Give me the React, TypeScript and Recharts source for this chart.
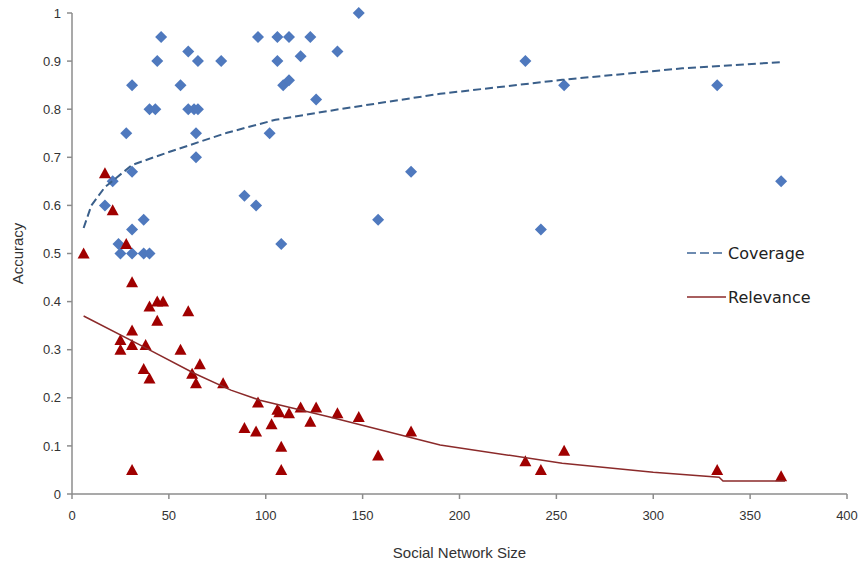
import React from 'react'
import {
  ScatterChart,
  Scatter,
  XAxis,
  YAxis,
} from 'recharts'

// Coverage observations (social network size, accuracy)
const coverageX = [
  31, 46, 60, 44, 65, 77, 56, 60, 63, 65, 40, 43, 28, 64, 64, 31, 21, 17, 37, 31, 24, 25, 31, 37, 40,
  96, 106, 112, 123, 148, 106, 118, 137, 109, 112, 126, 102, 89, 95, 175, 158, 108,
  234, 254, 333, 366, 242,
]
const coverageY = [
  0.85, 0.95, 0.92, 0.9, 0.9, 0.9, 0.85, 0.8, 0.8, 0.8, 0.8, 0.8, 0.75, 0.75, 0.7, 0.67, 0.65, 0.6, 0.57, 0.55, 0.52, 0.5, 0.5, 0.5, 0.5,
  0.95, 0.95, 0.95, 0.95, 1.0, 0.9, 0.91, 0.92, 0.85, 0.86, 0.82, 0.75, 0.62, 0.6, 0.67, 0.57, 0.52,
  0.9, 0.85, 0.85, 0.65, 0.55,
]

// Relevance observations
const relevanceX = [
  6, 17, 21, 28, 31, 40, 44, 47, 44, 60, 25, 25, 31, 31, 38, 56, 37, 40, 62, 66, 64, 78, 31,
  96, 89, 95, 103, 106, 107, 112, 118, 126, 123, 137, 148, 108, 108, 158, 175,
  234, 254, 242, 333, 366,
]
const relevanceY = [
  0.5, 0.667, 0.59, 0.52, 0.44, 0.39, 0.4, 0.4, 0.36, 0.38, 0.32, 0.3, 0.34, 0.31, 0.31, 0.3, 0.26, 0.24, 0.25, 0.27, 0.23, 0.23, 0.05,
  0.19, 0.137, 0.13, 0.145, 0.175, 0.17, 0.168, 0.18, 0.18, 0.15, 0.168, 0.16, 0.098, 0.05, 0.08, 0.13,
  0.068, 0.09, 0.05, 0.05, 0.037,
]

// Trend lines
const coverageTrendX = [6, 10, 17, 31, 50, 80, 105, 138, 190, 253, 315, 366]
const coverageTrendY = [0.553, 0.6, 0.638, 0.684, 0.711, 0.751, 0.778, 0.8, 0.832, 0.861, 0.885, 0.898]
const relevanceTrendX = [6, 37, 63, 82, 97, 133, 190, 253, 300, 334, 336, 368]
const relevanceTrendY = [0.37, 0.306, 0.251, 0.216, 0.195, 0.16, 0.102, 0.064, 0.045, 0.035, 0.027, 0.027]

const xTicks = [0, 50, 100, 150, 200, 250, 300, 350, 400]
const yTicks = [0, 0.1, 0.2, 0.3, 0.4, 0.5, 0.6, 0.7, 0.8, 0.9, 1]

const zip = (xs: number[], ys: number[]) => xs.map((x, i) => ({ x, y: ys[i] }))

const coverage = zip(coverageX, coverageY)
const relevance = zip(relevanceX, relevanceY)
const coverageTrend = zip(coverageTrendX, coverageTrendY)
const relevanceTrend = zip(relevanceTrendX, relevanceTrendY)

const BLUE = '#4f79be'
const RED = '#a00000'
const AXIS = '#8c8c8c'
const SANS = 'Liberation Sans, Arial, sans-serif'

const Diamond = (props: any) => {
  const { cx, cy } = props
  const r = 6
  return <polygon points={`${cx},${cy - r} ${cx + r},${cy} ${cx},${cy + r} ${cx - r},${cy}`} fill={BLUE} />
}

const Triangle = (props: any) => {
  const { cx, cy } = props
  return <polygon points={`${cx},${cy - 6} ${cx + 6},${cy + 5} ${cx - 6},${cy + 5}`} fill={RED} />
}

const NoDot = () => null

function LegendBox() {
  return (
    <div
      style={{
        position: 'absolute',
        left: 686,
        top: 242,
        fontFamily: 'DejaVu Sans, Verdana, sans-serif',
        fontSize: 16,
        color: '#222',
      }}
    >
      <div style={{ display: 'flex', alignItems: 'center', height: 22 }}>
        <svg width={42} height={10}>
          <line x1={1} y1={5} x2={40} y2={5} stroke="#6d8bb0" strokeWidth={2} strokeDasharray="9 4" />
        </svg>
        <span>Coverage</span>
      </div>
      <div style={{ display: 'flex', alignItems: 'center', height: 22, marginTop: 22 }}>
        <svg width={42} height={10}>
          <line x1={1} y1={5} x2={40} y2={5} stroke="#8b2a2a" strokeWidth={1.5} />
        </svg>
        <span>Relevance</span>
      </div>
    </div>
  )
}

export default function App() {
  const tick = { fontSize: 13, fill: '#333', fontFamily: SANS }
  return (
    <div style={{ position: 'fixed', left: 0, top: 0, width: 859, height: 564, background: '#fff' }}>
      <ScatterChart width={859} height={564} margin={{ top: 13, right: 12, bottom: 40, left: 0 }}>
        <XAxis
          type="number"
          dataKey="x"
          domain={[0, 400]}
          ticks={xTicks}
          interval={0}
          height={30}
          allowDataOverflow
          stroke={AXIS}
          strokeWidth={1.5}
          tick={tick}
          tickSize={5}
          tickMargin={12}
          label={{
            value: 'Social Network Size',
            position: 'insideBottom',
            offset: -34,
            style: { fontSize: 15, fill: '#333', fontFamily: SANS },
          }}
        />
        <YAxis
          type="number"
          dataKey="y"
          domain={[0, 1]}
          ticks={yTicks}
          interval={0}
          width={72}
          stroke={AXIS}
          strokeWidth={1.5}
          tick={tick}
          tickSize={5}
          tickMargin={6}
          tickFormatter={(v: number) => String(v)}
          label={{
            value: 'Accuracy',
            angle: -90,
            position: 'insideLeft',
            offset: 18,
            style: { fontSize: 15, fill: '#333', fontFamily: SANS, textAnchor: 'middle' },
          }}
        />
        <Scatter data={coverage} shape={<Diamond />} isAnimationActive={false} />
        <Scatter data={relevance} shape={<Triangle />} isAnimationActive={false} />
        <Scatter
          data={coverageTrend}
          line={{ stroke: '#3a5f8a', strokeWidth: 2, strokeDasharray: '8 4' }}
          lineType="joint"
          shape={<NoDot />}
          isAnimationActive={false}
        />
        <Scatter
          data={relevanceTrend}
          line={{ stroke: '#8b2a2a', strokeWidth: 1.5 }}
          lineType="joint"
          shape={<NoDot />}
          isAnimationActive={false}
        />
      </ScatterChart>
      <LegendBox />
    </div>
  )
}
